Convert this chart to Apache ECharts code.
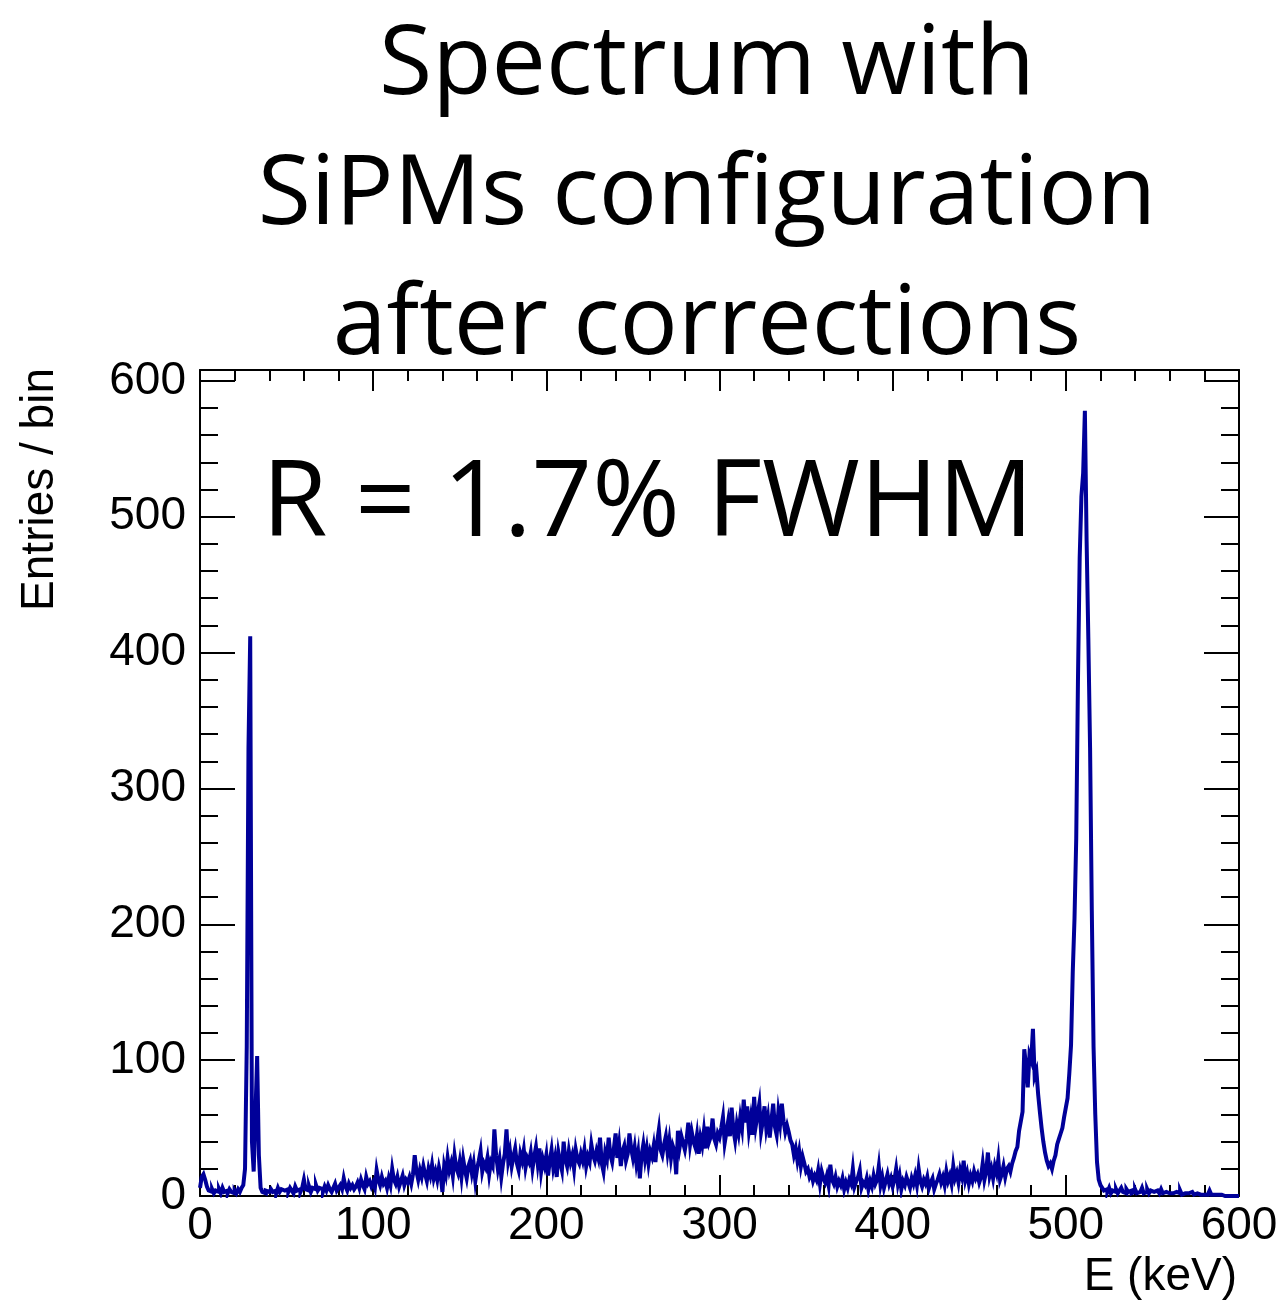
<!DOCTYPE html>
<html>
<head>
<meta charset="utf-8">
<script src="https://cdn.jsdelivr.net/npm/echarts@6/dist/echarts.min.js"></script>
<style>
html,body{margin:0;padding:0;background:#fff;}
#c{width:1285px;height:1300px;}
</style>
</head>
<body>
<div id="c"></div>
<script>
// ---- data ----
const titleLines = ['Spectrum with', 'SiPMs configuration', 'after corrections'];
const annotation = 'R = 1.7% FWHM';
const xTitle = 'E (keV)';
const yTitle = 'Entries / bin';
const xMin = 0, xMax = 600, xStep = 100;
const yMin = 0, yMax = 608, yStep = 100;
const binWidth = 1; // keV
// counts per 1 keV bin, 0..599 keV
const counts = [
6,14,16,12,7,4,3,5,2,4,
3,5,2,6,3,4,2,5,3,2,
4,2,5,3,6,8,20,110,330,412,
40,18,60,103,30,6,3,2,4,3,
2,5,3,4,2,6,3,5,4,3,
5,3,6,4,2,7,4,5,3,6,
12,5,4,7,3,6,5,8,4,6,
5,3,7,4,8,5,3,6,9,4,
6,8,5,13,7,4,9,6,8,5,
7,10,6,12,8,5,14,9,11,7,
10,6,19,12,8,14,9,11,6,13,
8,20,12,9,14,7,11,15,8,12,
10,14,9,16,30,18,12,19,14,22,
16,11,20,15,23,13,18,12,21,15,
3,22,16,28,19,24,15,30,21,17,
25,14,27,19,13,22,26,17,24,11,
20,26,33,18,24,21,28,16,25,22,
49,30,20,27,14,24,31,49,26,33,
22,29,35,24,19,31,26,34,21,28,
25,32,20,29,36,24,35,18,27,22,
30,15,26,34,21,28,14,32,25,19,
40,27,22,33,25,30,20,34,27,24,
31,26,34,22,29,25,38,30,26,33,
28,43,24,18,32,27,43,30,25,35,
46,28,38,22,33,37,26,31,46,35,
28,36,24,32,13,30,38,27,35,24,
33,29,37,25,40,49,34,30,38,44,
32,41,28,37,33,16,48,36,44,39,
34,42,54,38,47,40,36,45,31,43,
37,48,35,51,40,44,57,42,38,46,
43,50,58,39,47,55,44,65,49,41,
53,46,58,50,71,54,66,48,57,45,
73,52,60,68,47,55,66,50,58,43,
56,68,51,45,62,53,68,55,47,52,
47,41,38,30,35,26,33,22,29,24,
18,20,14,17,11,15,12,19,9,18,
13,10,15,8,23,12,9,14,7,11,
8,13,5,10,6,12,9,20,7,11,
14,19,6,10,8,13,5,11,7,15,
9,12,22,8,14,6,11,16,9,13,
7,12,20,9,15,5,11,8,14,10,
6,13,9,15,8,20,11,7,12,9,
14,6,10,13,5,9,12,16,10,14,
8,18,11,15,9,22,13,17,10,19,
14,26,12,17,9,15,11,18,13,16,
10,14,24,12,18,32,15,20,13,22,
17,27,12,16,22,14,20,22,18,24,
28,33,36,48,55,62,108,96,80,104,
100,123,88,92,75,62,50,40,32,26,
22,24,20,26,30,38,42,46,50,58,
65,72,90,111,165,204,263,379,470,515,
532,578,482,410,330,210,110,60,25,12,
8,6,4,5,3,6,2,4,3,5,
2,4,6,3,2,5,3,4,2,3,
5,2,3,4,6,2,3,5,2,4,
3,2,4,3,2,5,2,3,4,2,
3,2,1,3,2,2,4,1,2,3,
2,1,3,2,1,2,3,1,2,1,
2,1,2,4,1,1,2,1,0,1,
0,0,0,0,0,0,0,0,0,0
];

// ---- build ----
const histData = counts.map((v, i) => [xMin + i * binWidth, v]);
histData.push([xMin + counts.length * binWidth, counts[counts.length - 1]]);

const labelFont = 'Liberation Sans, Arial, Helvetica, sans-serif';
const titleFont = '"Open Sans", Lato, sans-serif';
const black = '#000';

// fit display-text size to the target ink widths of the reference
const ctx = document.createElement('canvas').getContext('2d');
function fitSize(text, targetWidth, base) {
  ctx.font = base + 'px ' + titleFont;
  const w = ctx.measureText(text).width;
  return Math.round(base * targetWidth / w);
}
const titleSize = Math.round((fitSize(titleLines[0], 660, 100) + fitSize(titleLines[1], 890, 100) + fitSize(titleLines[2], 760, 100)) / 3);
const annSize = fitSize(annotation, 775, 100);

function xAxisCfg(pos, showLabel) {
  return {
    type: 'value', position: pos, min: xMin, max: xMax, interval: xStep,
    axisLine: { show: true, onZero: false, lineStyle: { color: black, width: 2 } },
    axisTick: { show: true, inside: true, length: 21, lineStyle: { color: black, width: 2 } },
    minorTick: { show: true, splitNumber: 5, length: 11, lineStyle: { color: black, width: 2 } },
    splitLine: { show: false }, minorSplitLine: { show: false },
    axisLabel: { show: showLabel, fontSize: 46, fontFamily: labelFont, color: black, margin: 7 }
  };
}
function yAxisCfg(pos, showLabel) {
  return {
    type: 'value', position: pos, min: yMin, max: yMax, interval: yStep,
    axisLine: { show: true, onZero: false, lineStyle: { color: black, width: 2 } },
    axisTick: { show: true, inside: true, length: 35, lineStyle: { color: black, width: 2 } },
    minorTick: { show: true, splitNumber: 5, length: 18, lineStyle: { color: black, width: 2 } },
    splitLine: { show: false }, minorSplitLine: { show: false },
    axisLabel: {
      show: showLabel, fontSize: 46, fontFamily: labelFont, color: black, margin: 14,
      showMaxLabel: false,
      formatter: v => (v % yStep === 0 ? String(v) : '')
    }
  };
}

const chart = echarts.init(document.getElementById('c'), null, { renderer: 'canvas' });
const titleGraphics = titleLines.map((t, i) => ({
  type: 'text', x: 707, y: 115 + i * 130,
  style: { text: t, font: titleSize + 'px ' + titleFont, fill: black, textAlign: 'center', textVerticalAlign: 'bottom' }
}));

chart.setOption({
  animation: false,
  backgroundColor: '#fff',
  grid: { left: 200, right: 46, top: 370, bottom: 104, containLabel: false },
  xAxis: [xAxisCfg('bottom', true), xAxisCfg('top', false)],
  yAxis: [yAxisCfg('left', true), yAxisCfg('right', false)],
  series: [{
    type: 'line', step: 'end', xAxisIndex: 0, yAxisIndex: 0,
    data: histData, symbol: 'none', clip: true,
    lineStyle: { color: '#000099', width: 4, join: 'miter' }
  }],
  graphic: titleGraphics.concat([
    { type: 'text', x: 262, y: 559,
      style: { text: annotation, font: annSize + 'px ' + titleFont, fill: black, textAlign: 'left', textVerticalAlign: 'bottom' } },
    { type: 'text', x: 1237, y: 1277,
      style: { text: xTitle, font: '46px ' + labelFont, fill: black, textAlign: 'right', textVerticalAlign: 'middle' } },
    { type: 'text', x: 40, y: 368, rotation: Math.PI / 2,
      style: { text: yTitle, font: '46px ' + labelFont, fill: black, textAlign: 'right', textVerticalAlign: 'middle' } }
  ])
});
</script>
</body>
</html>
